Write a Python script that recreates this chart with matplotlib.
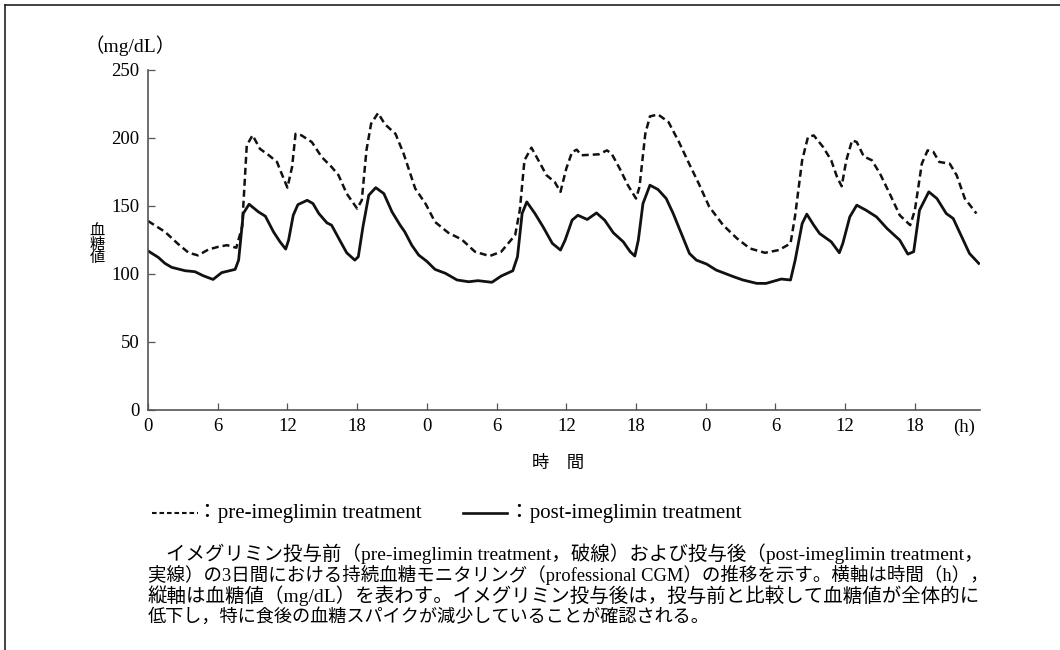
import matplotlib
matplotlib.use("Agg")
from matplotlib import pyplot as plt
from matplotlib.lines import Line2D

plt.rcParams['font.family'] = ['Liberation Serif', 'Noto Sans CJK JP', 'DejaVu Sans']

# hours from start of CGM recording (3 days)
pre_hours = [0.0, 1.46, 2.6, 3.5, 4.3, 5.2, 6.05, 6.8, 7.6, 8.1, 8.5, 9.0, 9.64, 10.4,
             11.1, 11.5, 12.0, 12.4, 12.7, 13.2, 14.1, 14.95, 15.8, 16.4, 17.1, 18.0,
             18.4, 18.8, 19.2, 19.8, 20.4, 21.3, 22.0, 23.0, 23.9, 24.7, 25.85, 27.0,
             28.14, 29.4, 30.4, 31.6, 32.0, 32.4, 33.0, 33.6, 34.3, 35.0, 35.5, 36.0,
             36.5, 36.9, 37.3, 38.8, 39.5, 39.9, 40.6, 41.3, 42.0, 42.3, 42.8, 43.2,
             43.9, 44.8, 45.7, 46.5, 47.4, 48.3, 49.5, 50.7, 51.8, 53.1, 54.3, 55.3,
             55.7, 56.3, 56.8, 57.3, 58.1, 58.8, 59.3, 59.7, 60.1, 60.6, 61.0, 61.6,
             62.3, 63.0, 63.9, 64.7, 65.6, 66.0, 66.6, 67.1, 67.6, 68.1, 69.0, 69.6,
             70.3, 71.3]
pre_values = [139, 131, 122, 115.6, 113.7, 118, 120, 121.2, 119.3, 134.7, 194.6, 202, 192,
              187.3, 182.4, 173.8, 163.5, 178.7, 203.1, 202, 197, 186, 178.7, 172.6,
              159.1, 148.1, 154.2, 190.9, 210.5, 218.3, 210, 203.1, 188.5, 162.8, 151.5,
              138.3, 130.3, 125.4, 116.4, 113.2, 116.4, 128.6, 146.9, 183.6, 192.9, 183.6,
              172.6, 167.7, 160.4, 177.5, 189.7, 191.4, 187.3, 188, 190.9, 188.5, 177.5,
              165.3, 155.5, 164, 203.1, 215.9, 217.3, 211.7, 197, 182.4, 166.5, 149.5,
              135.9, 126.1, 118.8, 115.6, 117.6, 122.5, 143.2, 183.6, 200.7, 201.9, 193.4,
              183.6, 171.4, 164.5, 183.6, 198.3, 197, 186.5, 183.6, 173.8, 157.9, 143.2,
              135.9, 146.9, 181.1, 190.9, 189.7, 182.4, 181.1, 172.6, 155.5, 144.5]

post_hours = [0.0, 0.89, 1.46, 2.04, 3.2, 4.04, 4.76, 5.6, 6.34, 7.5, 7.8, 8.2, 8.7, 9.5,
              10.1, 10.8, 11.36, 11.85, 12.1, 12.5, 12.9, 13.7, 14.2, 14.7, 15.4, 15.8,
              16.5, 17.1, 17.8, 18.1, 18.5, 19.0, 19.6, 20.3, 21.0, 21.7, 22.1, 22.7,
              23.3, 24.0, 24.7, 25.6, 26.6, 27.6, 28.4, 29.6, 30.4, 31.4, 31.8, 32.2,
              32.6, 33.3, 34.0, 34.8, 35.5, 35.9, 36.5, 37.0, 37.8, 38.6, 39.3, 40.05,
              40.9, 41.5, 41.9, 42.2, 42.6, 43.2, 43.9, 44.6, 45.2, 45.9, 46.6, 47.2,
              48.08, 48.9, 50.4, 51.2, 52.4, 53.2, 54.5, 55.3, 55.7, 56.3, 56.7, 57.3,
              57.8, 58.8, 59.5, 59.8, 60.4, 61.0, 61.8, 62.7, 63.6, 64.7, 65.4, 65.9,
              66.4, 67.2, 67.9, 68.7, 69.3, 69.9, 70.7, 71.5]
post_values = [117, 112.2, 107.8, 104.9, 102.4, 101.7, 98.7, 96, 101, 103.4, 110.2, 144.5,
               151.3, 145.7, 142.5, 131, 123.7, 118.3, 124.9, 143.2, 151, 154.2, 151.8,
               144.5, 137.6, 135.9, 124.9, 115.6, 110.2, 112.7, 134.7, 157.9, 163.5, 159.1,
               145.7, 135.9, 131, 121.2, 113.9, 109.3, 103.4, 100.5, 95.6, 94.3, 95.1, 93.9,
               98.5, 102.4, 112.7, 144.5, 153, 144.5, 134.7, 122.5, 117.6, 124.9, 139.6,
               143.2, 140.1, 144.9, 139.6, 130.3, 123.7, 116.4, 113.2, 124.9, 151.8, 165.3,
               162.1, 155.5, 144.5, 129.8, 115.1, 110.2, 107.3, 102.9, 98, 95.6, 93.1, 93.1,
               96.3, 95.6, 110.2, 137.1, 144, 135.9, 129.8, 123.7, 115.6, 122.5, 142, 150.6,
               146.9, 142, 133.5, 124.9, 114.6, 116.4, 146.9, 160.4, 155.5, 144.5, 140.8,
               129.8, 115.1, 107.8]

tick_pos = list(range(0, 72, 6))
tick_labels = ['0', '6', '12', '18'] * 3
y_ticks = [0, 50, 100, 150, 200, 250]

caption = [
    "イメグリミン投与前（pre-imeglimin treatment，破線）および投与後（post-imeglimin treatment，",
    "実線）の3日間における持続血糖モニタリング（professional CGM）の推移を示す。横軸は時間（h），",
    "縦軸は血糖値（mg/dL）を表わす。イメグリミン投与後は，投与前と比較して血糖値が全体的に",
    "低下し，特に食後の血糖スパイクが減少していることが確認される。",
]
# per-line size so the paragraph comes out justified like the print
caption_sizes = [14.0, 13.3, 14.0, 13.1]

W, H = 1060, 650
fig = plt.figure(figsize=(W / 100, H / 100), dpi=100)
ax = fig.add_axes([148 / W, 1 - 410 / H, (980.5 - 148) / W, (410 - 70) / H])

ax.plot(pre_hours, pre_values, color='#111111', lw=1.8, linestyle=(0, (2.8, 1.6)))
ax.plot(post_hours, post_values, color='#111111', lw=2.0)

ax.set_xlim(0, 71.65)
ax.set_ylim(0, 250)
ax.set_xticks(tick_pos)
ax.set_xticklabels(tick_labels)
ax.set_yticks(y_ticks)
for s in ['top', 'right']:
    ax.spines[s].set_visible(False)
for s in ['left', 'bottom']:
    ax.spines[s].set_color('#555555')
    ax.spines[s].set_linewidth(1.2)
ax.tick_params(direction='in', length=5, width=0.9, color='#555555',
               labelsize=13.5, pad=6)

def ftext(px, py, s, **kw):
    fig.text(px / W, 1 - py / H, s, **kw)

ftext(964, 427, "(h)", fontsize=13.5, ha='center', va='center')
ftext(130, 46, "（mg/dL）", fontsize=14, ha='center', va='center')
ftext(97, 245, "血\n糖\n値", fontsize=11, ha='center', va='center', linespacing=0.95)
ftext(558, 464, "時　間", fontsize=12.5, ha='center', va='center')

# legend row
fig.add_artist(Line2D([152 / W, 198 / W], [1 - 513 / H] * 2, color='#111111', lw=1.5,
                      linestyle=(0, (2.2, 1.4))))
ftext(197, 513, "：pre-imeglimin treatment", fontsize=15, ha='left', va='center')
fig.add_artist(Line2D([463 / W, 507 / W], [1 - 513 / H] * 2, color='#111111', lw=1.9))
ftext(509, 513, "：post-imeglimin treatment", fontsize=15, ha='left', va='center')

# caption
for i, line in enumerate(caption):
    x0 = 166 if i == 0 else 148
    ftext(x0, 554 + 21 * i, line, fontsize=caption_sizes[i], ha='left', va='center')

# frame (top and left edges)
fig.add_artist(Line2D([5 / W, 1], [1 - 5 / H] * 2, color='#222222', lw=1.2))
fig.add_artist(Line2D([5 / W] * 2, [1 - 5 / H, 0], color='#222222', lw=1.2))

fig.savefig('out.png', dpi=100)
